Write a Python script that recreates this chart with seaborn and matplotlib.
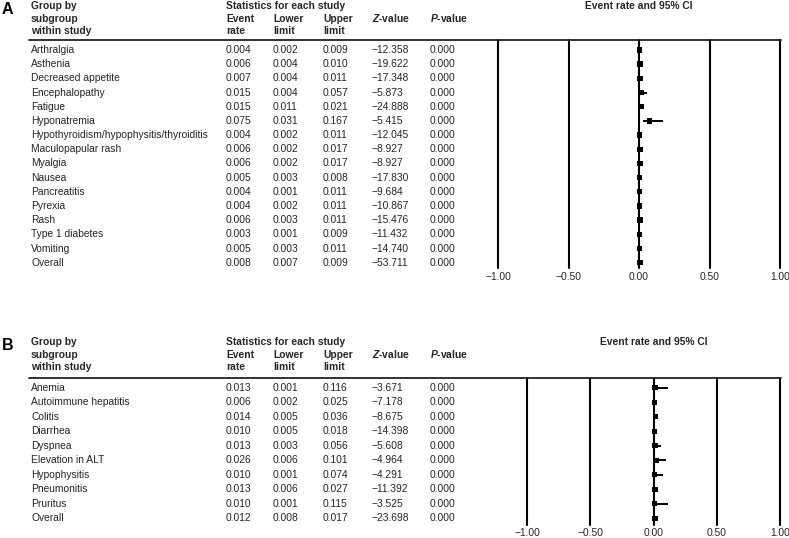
import numpy as np
import pandas as pd
import matplotlib
matplotlib.use("Agg")
import matplotlib.pyplot as plt
import matplotlib.transforms as mtransforms
from matplotlib.lines import Line2D
import seaborn as sns

# ---------------- data ----------------
a_names = ["Arthralgia", "Asthenia", "Decreased appetite", "Encephalopathy", "Fatigue",
           "Hyponatremia", "Hypothyroidism/hypophysitis/thyroiditis", "Maculopapular rash",
           "Myalgia", "Nausea", "Pancreatitis", "Pyrexia", "Rash", "Type 1 diabetes",
           "Vomiting", "Overall"]
a_rate = [0.004, 0.006, 0.007, 0.015, 0.015, 0.075, 0.004, 0.006, 0.006, 0.005, 0.004,
          0.004, 0.006, 0.003, 0.005, 0.008]
a_lower = [0.002, 0.004, 0.004, 0.004, 0.011, 0.031, 0.002, 0.002, 0.002, 0.003, 0.001,
           0.002, 0.003, 0.001, 0.003, 0.007]
a_upper = [0.009, 0.010, 0.011, 0.057, 0.021, 0.167, 0.011, 0.017, 0.017, 0.008, 0.011,
           0.011, 0.011, 0.009, 0.011, 0.009]
a_z = [-12.358, -19.622, -17.348, -5.873, -24.888, -5.415, -12.045, -8.927, -8.927,
       -17.830, -9.684, -10.867, -15.476, -11.432, -14.740, -53.711]
a_p = [0.000] * 16

b_names = ["Anemia", "Autoimmune hepatitis", "Colitis", "Diarrhea", "Dyspnea",
           "Elevation in ALT", "Hypophysitis", "Pneumonitis", "Pruritus", "Overall"]
b_rate = [0.013, 0.006, 0.014, 0.010, 0.013, 0.026, 0.010, 0.013, 0.010, 0.012]
b_lower = [0.001, 0.002, 0.005, 0.005, 0.003, 0.006, 0.001, 0.006, 0.001, 0.008]
b_upper = [0.116, 0.025, 0.036, 0.018, 0.056, 0.101, 0.074, 0.027, 0.115, 0.017]
b_z = [-3.671, -7.178, -8.675, -14.398, -5.608, -4.964, -4.291, -11.392, -3.525, -23.698]
b_p = [0.000] * 10

x_ticks = [-1.0, -0.5, 0.0, 0.5, 1.0]
x_ticklabels = ["\u22121.00", "\u22120.50", "0.00", "0.50", "1.00"]

# ---------------- style ----------------
sns.set_theme(style="white")
plt.rcParams["font.family"] = ["Liberation Sans", "DejaVu Sans"]
plt.rcParams["mathtext.fontset"] = "custom"
plt.rcParams["mathtext.it"] = "Liberation Sans:italic:bold"

W, H = 789, 538
fig = plt.figure(figsize=(W / 100, H / 100), dpi=100)

FS = 7.4
col_x = {"name": 31, "rate": 226, "lower": 273, "upper": 323, "z": 372, "p": 430}


def fx(px):
    return px / W


def fy(py):
    return 1 - py / H


def fmt(v):
    s = f"{v:.3f}"
    return s.replace("-", "\u2212")


def panel(letter, names, rate, lower, upper, z, p, top_px, line_px, row0_px, step_px,
          bottom_px, tick_px, x_left_px):
    x_right_px = 780
    ax = fig.add_axes([fx(x_left_px), fy(bottom_px), fx(x_right_px - x_left_px),
                       (bottom_px - line_px) / H])
    n = len(names)
    ax.set_xlim(-1.0, 1.0)
    ax.set_ylim((bottom_px - row0_px) / step_px, (line_px - row0_px) / step_px)
    for s in ax.spines.values():
        s.set_visible(False)
    ax.set_yticks([])
    ax.set_xticks([])
    for t in x_ticks:
        ax.axvline(t, color="black", lw=1.5, zorder=1, clip_on=False)

    df = pd.DataFrame({"name": names, "rate": rate, "lower": lower, "upper": upper,
                       "row": np.arange(n)})
    ax.hlines(df["row"], df["lower"], df["upper"], color="black", lw=1.4, zorder=3)
    sns.scatterplot(data=df, x="rate", y="row", marker="s", s=15, color="black",
                    edgecolor="none", linewidth=0, ax=ax, zorder=4, legend=False)
    ax.set_xlabel("")
    ax.set_ylabel("")

    # tick labels
    for t, lab in zip(x_ticks, x_ticklabels):
        ax.text(t, fy(tick_px), lab, transform=mtransforms.blended_transform_factory(
            ax.transData, fig.transFigure), ha="center", va="center", fontsize=FS)

    # table rows
    tr = mtransforms.blended_transform_factory(fig.transFigure, ax.transData)
    for i in range(n):
        ax.text(fx(col_x["name"]), i, names[i], transform=tr, va="center", fontsize=FS)
        ax.text(fx(col_x["rate"]), i, fmt(rate[i]), transform=tr, va="center", fontsize=FS)
        ax.text(fx(col_x["lower"]), i, fmt(lower[i]), transform=tr, va="center", fontsize=FS)
        ax.text(fx(col_x["upper"]), i, fmt(upper[i]), transform=tr, va="center", fontsize=FS)
        ax.text(fx(col_x["z"]), i, fmt(z[i]), transform=tr, va="center", fontsize=FS)
        ax.text(fx(col_x["p"]), i, fmt(p[i]), transform=tr, va="center", fontsize=FS)

    # header
    h1, h2, h3 = top_px, top_px + 12.5, top_px + 25
    kw = dict(transform=fig.transFigure, va="center", fontsize=FS, fontweight="bold")
    fig.text(fx(7.5), fy(h1 + 3), letter, transform=fig.transFigure, va="center",
             ha="center", fontsize=11.5, fontweight="bold", color="black")
    fig.text(fx(col_x["name"]), fy(h1), "Group by", **kw)
    fig.text(fx(col_x["name"]), fy(h2), "subgroup", **kw)
    fig.text(fx(col_x["name"]), fy(h3), "within study", **kw)
    fig.text(fx(col_x["rate"]), fy(h1), "Statistics for each study", **kw)
    fig.text(fx(col_x["rate"]), fy(h2), "Event", **kw)
    fig.text(fx(col_x["rate"]), fy(h3), "rate", **kw)
    fig.text(fx(col_x["lower"]), fy(h2), "Lower", **kw)
    fig.text(fx(col_x["lower"]), fy(h3), "limit", **kw)
    fig.text(fx(col_x["upper"]), fy(h2), "Upper", **kw)
    fig.text(fx(col_x["upper"]), fy(h3), "limit", **kw)
    fig.text(fx(col_x["z"]), fy(h2), r"$\mathit{Z}$-value", **kw)
    fig.text(fx(col_x["p"]), fy(h2), r"$\mathit{P}$-value", **kw)
    ax.text(0.0, fy(h1), "Event rate and 95% CI",
            transform=mtransforms.blended_transform_factory(ax.transData, fig.transFigure),
            ha="center", va="center", fontsize=FS, fontweight="bold")

    fig.add_artist(Line2D([fx(29), fx(x_right_px + 0.5)], [fy(line_px), fy(line_px)],
                          transform=fig.transFigure, color="#222222", lw=1.3))
    return ax


panel("A", a_names, a_rate, a_lower, a_upper, a_z, a_p,
      top_px=6, line_px=40, row0_px=50, step_px=14.18, bottom_px=268, tick_px=277,
      x_left_px=498)
panel("B", b_names, b_rate, b_lower, b_upper, b_z, b_p,
      top_px=342, line_px=378, row0_px=387.7, step_px=14.51, bottom_px=525, tick_px=533,
      x_left_px=527)

fig.savefig("out.png", dpi=100)
